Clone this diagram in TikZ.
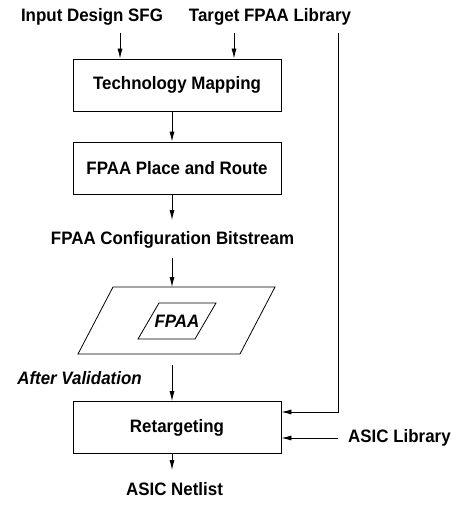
\documentclass[tikz,border=0pt]{standalone}
\usepackage{fontspec}
\setmainfont[FakeStretch=0.94]{Liberation Sans}
\usetikzlibrary{arrows.meta,positioning,calc}
\definecolor{ink}{HTML}{000000}

\tikzset{
  flowbox/.style={draw=ink,line width=0.8pt,minimum width=208pt,minimum height=52pt,inner sep=0pt,font=\fontsize{18}{18}\selectfont\bfseries,text=ink},
  flowlabel/.style={inner sep=0pt,font=\fontsize{18}{18}\selectfont\bfseries,text=ink},
  flowarrow/.style={draw=ink,line width=0.8pt,-{Latex[length=10pt,width=5pt]}}
}

\begin{document}
\begin{tikzpicture}[x=1pt,y=-1pt]
\useasboundingbox (0,0) rectangle (459,511);
% process boxes
\foreach \n/\y/\t in {tm/85/{Technology Mapping},pr/168/{FPAA Place and Route},rt/427.5/{Retargeting}}{
  \node[flowbox] (\n) at (177,\y) {\t};
}
% free labels
\node[flowlabel] (sfg) at (92,17) {Input Design SFG};
\node[flowlabel] (lib) at (270,17) {Target FPAA Library};
\node[flowlabel] (cfg) at (172.5,240) {FPAA Configuration Bitstream};
\node[flowlabel,font=\fontsize{18}{18}\selectfont\bfseries\itshape] (valid) at (79.5,378) {After Validation};
\node[flowlabel] (net) at (174.5,489) {ASIC Netlist};
\node[flowlabel,anchor=west] (asic) at (348,438) {ASIC Library};
% the FPAA itself
\draw[ink,line width=0.8pt] (113,287) -- (275,287) -- (240,354) -- (78,354) -- cycle;
\draw[ink,line width=0.8pt] (159,303) -- (216,303) -- (195,339) -- (138,339) -- cycle;
\node[flowlabel,font=\fontsize{18}{18}\selectfont\bfseries\itshape] (chip) at (177,321) {FPAA};
\coordinate (chiptop) at (172,287);
\coordinate (chipbot) at (172,365);
\coordinate (spine) at (172,0);
\coordinate (libtop) at (338,33);
% connectors
\draw[flowarrow] (120,33) -- (tm.north -| 120,0);
\draw[flowarrow] (234,33) -- (tm.north -| 234,0);
\draw[flowarrow] (tm.south -| spine) -- (pr.north -| spine);
\draw[flowarrow] (pr.south -| spine) -- (172,220);
\draw[flowarrow] (172,258) -- (chiptop);
\draw[flowarrow] (chipbot) -- (rt.north -| spine);
\draw[flowarrow] (rt.south -| spine) -- (172,470);
\draw[flowarrow] (libtop) |- ([yshift=15.5pt]rt.east);
\draw[flowarrow] (asic.west -| 338,0) -- (asic.west -| rt.east);
\end{tikzpicture}
\end{document}
